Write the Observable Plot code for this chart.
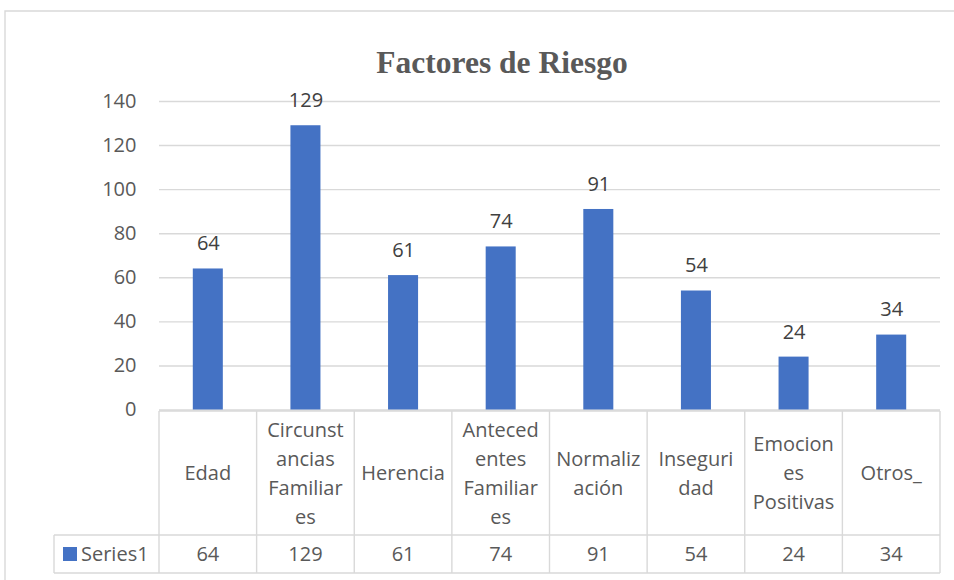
<!DOCTYPE html>
<html>
<head>
<meta charset="utf-8">
<script src="https://cdn.jsdelivr.net/npm/d3@7"></script>
<script src="https://cdn.jsdelivr.net/npm/@observablehq/plot@0.6"></script>
<style>
  html, body { margin: 0; padding: 0; background: #fff; }
  svg { display: block; }
</style>
</head>
<body>
<div id="chart"></div>
<script>
const title = "Factores de Riesgo";
const seriesName = "Series1";
const categories = ["Edad", "Circunstancias Familiares", "Herencia", "Antecedentes Familiares", "Normalización", "Inseguridad", "Emociones Positivas", "Otros_"];
const values = [64, 129, 61, 74, 91, 54, 24, 34];
const tableLabels = [
  ["Edad"],
  ["Circunst", "ancias", "Familiar", "es"],
  ["Herencia"],
  ["Anteced", "entes", "Familiar", "es"],
  ["Normaliz", "ación"],
  ["Inseguri", "dad"],
  ["Emocion", "es", "Positivas"],
  ["Otros_"]
];
const yTicks = [0, 20, 40, 60, 80, 100, 120, 140];

const data = categories.map((c, i) => ({cat: c, value: values[i], lines: tableLabels[i]}));

const FONT = "Open Sans";
const BAR = "#4472C4";
const LINE = "#d9d9d9";
const TXT = "#595959";

function tableMark(index, scales, vals, dimensions) {
  const g = d3.create("svg:g").attr("font-family", FONT).attr("font-size", 20).attr("fill", TXT);
  const x0 = scales.x(categories[0]);
  const bw = scales.x(categories[1]) - x0;
  const xEnd = x0 + bw * categories.length;
  const top = dimensions.height - dimensions.marginBottom + 1.5;
  const headH = 124, rowH = 38;
  const rowTop = top + headH, bottom = rowTop + rowH;
  const legendLeft = 54;
  const ln = (x1, y1, x2, y2) => g.append("line").attr("x1", x1).attr("y1", y1).attr("x2", x2).attr("y2", y2)
      .attr("stroke", LINE).attr("stroke-width", 1.4);
  ln(x0, top, xEnd, top);
  ln(legendLeft, rowTop, xEnd, rowTop);
  ln(legendLeft, bottom, xEnd, bottom);
  ln(legendLeft, rowTop, legendLeft, bottom);
  for (let i = 0; i <= categories.length; i++) {
    const x = x0 + bw * i;
    ln(x, top, x, bottom);
  }
  data.forEach(d => {
    const cx = scales.x(d.cat) + bw / 2;
    const cy = top + headH / 2;
    const n = d.lines.length;
    d.lines.forEach((t, i) => {
      g.append("text").attr("x", cx).attr("y", cy + (i - (n - 1) / 2) * 29)
        .attr("dy", "0.35em").attr("text-anchor", "middle").text(t);
    });
    g.append("text").attr("x", cx).attr("y", rowTop + rowH / 2).attr("dy", "0.35em")
      .attr("text-anchor", "middle").text(String(d.value));
  });
  g.append("rect").attr("x", 63).attr("y", rowTop + 12).attr("width", 14).attr("height", 14).attr("fill", BAR);
  g.append("text").attr("x", 81).attr("y", rowTop + rowH / 2).attr("dy", "0.35em")
    .attr("text-anchor", "start").text(seriesName);
  // outer chart border
  g.append("path").attr("d", `M5,${dimensions.height} V11 H${dimensions.width}`)
    .attr("fill", "none").attr("stroke", LINE).attr("stroke-width", 1.4);
  return g.node();
}

const chart = Plot.plot({
  width: 954,
  height: 580,
  marginLeft: 159,
  marginRight: 14,
  marginTop: 101,
  marginBottom: 170.5,
  style: {fontFamily: FONT, fontSize: "20px", color: TXT, background: "#fff"},
  x: {domain: categories, padding: 0, round: false, axis: null},
  y: {domain: [0, 140], axis: null},
  marks: [
    Plot.gridY(yTicks, {stroke: LINE, strokeOpacity: 1, strokeWidth: 1.4}),
    Plot.axisY(yTicks, {tickSize: 0, tickPadding: 23, fontSize: 20, fill: TXT, label: null}),
    Plot.barY(data, {x: "cat", y: "value", fill: BAR, insetLeft: 33.8, insetRight: 33.8}),
    Plot.text(data, {x: "cat", y: "value", text: d => String(d.value), dy: -25, fill: "#404040", fontSize: 20}),
    Plot.text([title], {frameAnchor: "top", dy: -51, dx: -48, text: d => d, fontFamily: "Liberation Serif", fontWeight: "bold", fontSize: 31.5, fill: TXT}),
    tableMark
  ]
});
document.getElementById("chart").appendChild(chart);
</script>
</body>
</html>
